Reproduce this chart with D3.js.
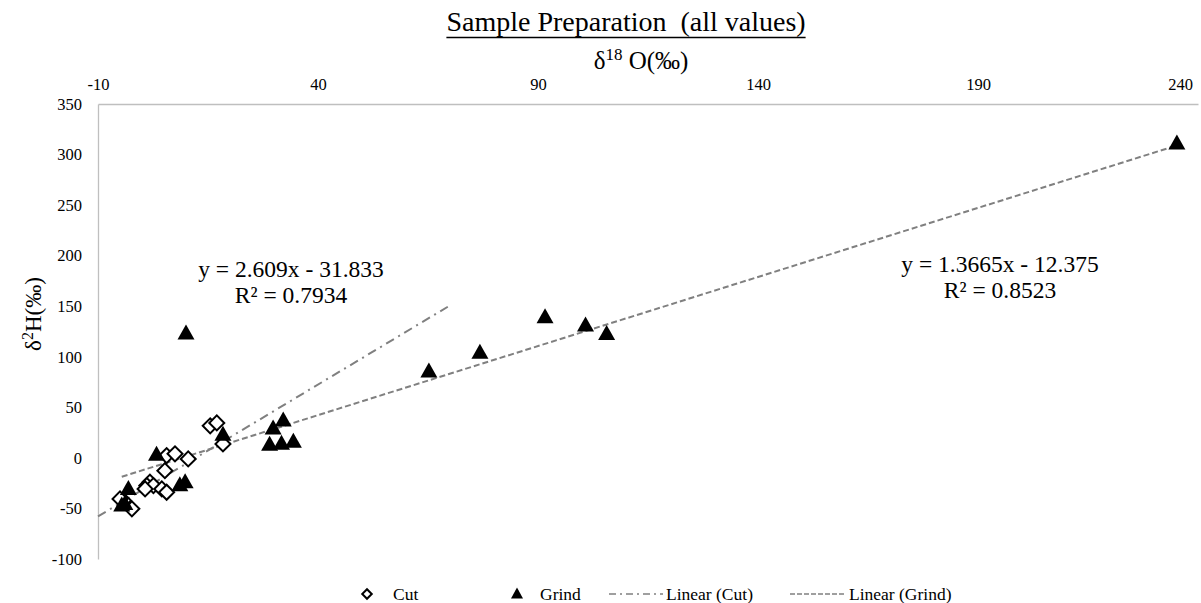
<!DOCTYPE html>
<html>
<head>
<meta charset="utf-8">
<script src="https://cdn.jsdelivr.net/npm/d3@7"></script>
<style>
  html, body { margin: 0; padding: 0; background: #fff; }
  svg { display: block; }
  svg text { font-family: "Liberation Serif", "Times New Roman", serif; fill: #000; }
</style>
</head>
<body>
<svg id="chart" width="1201" height="603"></svg>
<script>
// ---- data ----
const cutX = [5.6, 7.5, 10.5, 5.2, 1.8, 1.1, 2.6, 0.7, 4.5, 5.6, -2.3, -4.2, -5.0, 15.5, 17.0, 18.4];
const cutY = [2.3, 4.0, -1.0, -12.6, -24.0, -27.4, -27.4, -30.7, -30.7, -34.0, -50.4, -42.2, -40.6, 31.7, 34.6, 13.8];
const grindX = [235.2, 10.0, 91.6, 100.8, 105.6, 76.8, 65.2, 32.1, 29.8, 34.4, 29.0, 31.7, 18.4, 3.3, 9.8, 8.6, -3.1, -3.9, -4.6];
const grindY = [311.0, 123.0, 139.0, 131.0, 122.5, 104.0, 85.5, 37.0, 29.0, 16.0, 13.0, 14.0, 23.0, 3.0, -24.0, -27.0, -30.7, -45.5, -47.0];
const xTicks = [-10, 40, 90, 140, 190, 240];
const yTicks = [-100, -50, 0, 50, 100, 150, 200, 250, 300, 350];
const cutFit = { slope: 2.609, intercept: -31.833, from: -10, to: 69.5, eq: "y = 2.609x - 31.833", r2: "R² = 0.7934" };
const grindFit = { slope: 1.3665, intercept: -12.375, from: -4.6, to: 235.2, eq: "y = 1.3665x - 12.375", r2: "R² = 0.8523" };

(function () {
  const svg = d3.select("#chart");
  const pLeft = 98, pRight = 1198, pTop = 104, pBottom = 559;
  const x = d3.scaleLinear().domain([-10, 240]).range([pLeft, pRight]);
  const y = d3.scaleLinear().domain([-100, 350]).range([pBottom, pTop]);

  // title
  const title = svg.append("text")
    .attr("x", 626).attr("y", 31)
    .attr("text-anchor", "middle")
    .attr("font-size", 28)
    .text("Sample Preparation\u00A0\u00A0(all values)");
  const tb = title.node().getBBox();
  svg.append("line")
    .attr("x1", tb.x).attr("x2", tb.x + tb.width)
    .attr("y1", 37.5).attr("y2", 37.5)
    .attr("stroke", "#000").attr("stroke-width", 1.3);

  // x axis title
  const xt = svg.append("text")
    .attr("x", 641).attr("y", 69)
    .attr("text-anchor", "middle")
    .attr("font-size", 25);
  xt.append("tspan").text("δ");
  xt.append("tspan").attr("font-size", 17).attr("dy", -9).text("18");
  xt.append("tspan").attr("dy", 9).text(" O(‰)");

  // y axis title
  const yt = svg.append("text")
    .attr("transform", "translate(41,314) rotate(-90)")
    .attr("text-anchor", "middle")
    .attr("font-size", 23);
  yt.append("tspan").text("δ");
  yt.append("tspan").attr("font-size", 16).attr("dy", -8).text("2");
  yt.append("tspan").attr("dy", 8).text("H(‰)");

  // axes
  const xAxis = d3.axisTop(x).tickValues(xTicks).tickSize(0).tickPadding(14).tickFormat(d => String(d));
  const gx = svg.append("g").attr("transform", `translate(0,${pTop})`).call(xAxis);
  gx.attr("font-family", null);
  gx.select(".domain").attr("stroke", "#bfbfbf").attr("stroke-width", 1.3);
  gx.selectAll("text").attr("font-size", 16.5).attr("fill", "#000");
  gx.selectAll(".tick text").filter(d => d === 240).attr("dx", -18);

  const yAxis = d3.axisLeft(y).tickValues(yTicks).tickSize(0).tickPadding(16).tickFormat(d => String(d));
  const gy = svg.append("g").attr("transform", `translate(${pLeft},0)`).call(yAxis);
  gy.attr("font-family", null);
  gy.select(".domain").attr("stroke", "#bfbfbf").attr("stroke-width", 1.3);
  gy.selectAll("text").attr("font-size", 16.5).attr("fill", "#000");

  // trendlines
  function fitLine(f, dash) {
    svg.append("line")
      .attr("x1", x(f.from)).attr("y1", y(f.slope * f.from + f.intercept))
      .attr("x2", x(f.to)).attr("y2", y(f.slope * f.to + f.intercept))
      .attr("stroke", "#808080").attr("stroke-width", 2)
      .attr("stroke-dasharray", dash);
  }
  fitLine(cutFit, "9,5,2,5");
  fitLine(grindFit, "6,3");

  // markers
  svg.append("g").selectAll("path.cut")
    .data(cutX.map((v, i) => [v, cutY[i]]))
    .join("path")
    .attr("class", "cut")
    .attr("d", d3.symbol().type(d3.symbolSquare).size(112)())
    .attr("transform", d => `translate(${x(d[0])},${y(d[1])}) rotate(45)`)
    .attr("fill", "#fff").attr("stroke", "#000").attr("stroke-width", 2);

  svg.append("g").selectAll("path.grind")
    .data(grindX.map((v, i) => [v, grindY[i]]))
    .join("path")
    .attr("class", "grind")
    .attr("d", "M0,-9L8.5,6L-8.5,6Z")
    .attr("transform", d => `translate(${x(d[0])},${y(d[1])})`)
    .attr("fill", "#000");

  // equations
  function eqLabel(f, cx, cy) {
    svg.append("text").attr("x", cx).attr("y", cy).attr("text-anchor", "middle")
      .attr("font-size", 23.5).text(f.eq);
    svg.append("text").attr("x", cx).attr("y", cy + 26).attr("text-anchor", "middle")
      .attr("font-size", 23.5).text(f.r2);
  }
  eqLabel(cutFit, 291, 277);
  eqLabel(grindFit, 1000, 272);

  // legend
  const ly = 594;
  const lg = svg.append("g");
  lg.append("path").attr("d", d3.symbol().type(d3.symbolSquare).size(45)())
    .attr("transform", `translate(367,${ly}) rotate(45)`)
    .attr("fill", "#fff").attr("stroke", "#000").attr("stroke-width", 2);
  lg.append("text").attr("x", 393).attr("y", ly + 6).attr("font-size", 17.5).text("Cut");
  lg.append("path").attr("d", "M0,-6.5L6,4.5L-6,4.5Z")
    .attr("transform", `translate(517,${ly})`).attr("fill", "#000");
  lg.append("text").attr("x", 540).attr("y", ly + 6).attr("font-size", 17.5).text("Grind");
  lg.append("line").attr("x1", 609).attr("x2", 663).attr("y1", ly).attr("y2", ly)
    .attr("stroke", "#808080").attr("stroke-width", 1.5).attr("stroke-dasharray", "7,4,2,4");
  lg.append("text").attr("x", 666).attr("y", ly + 6).attr("font-size", 17.5).text("Linear (Cut)");
  lg.append("line").attr("x1", 790).attr("x2", 846).attr("y1", ly).attr("y2", ly)
    .attr("stroke", "#808080").attr("stroke-width", 1.5).attr("stroke-dasharray", "5,2");
  lg.append("text").attr("x", 849).attr("y", ly + 6).attr("font-size", 17.5).text("Linear (Grind)");
})();
</script>
</body>
</html>
